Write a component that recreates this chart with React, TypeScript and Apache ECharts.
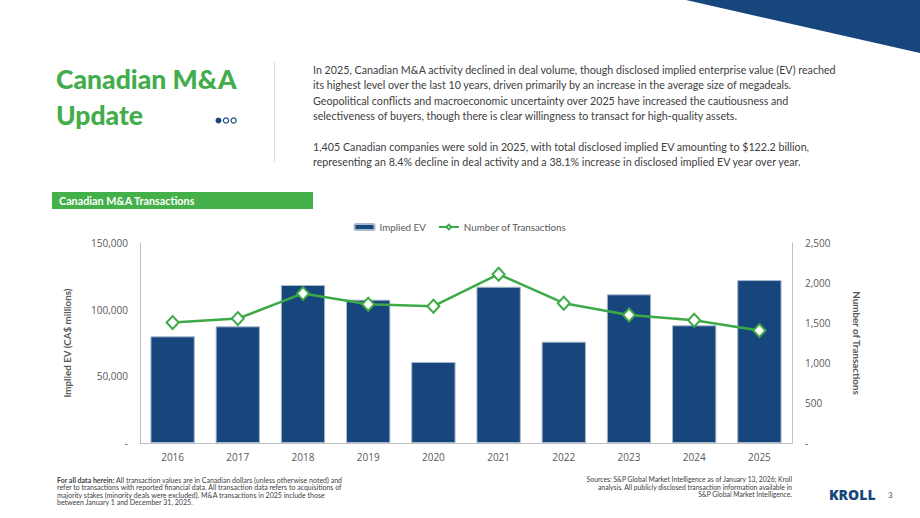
import React, { useEffect, useRef } from "react";
import * as echarts from "echarts";

// Transaction data by year
const years = ["2016", "2017", "2018", "2019", "2020", "2021", "2022", "2023", "2024", "2025"];
const impliedEV = [80000, 87500, 118500, 107500, 60800, 117200, 76000, 111500, 88300, 122200];
const transactions = [1505, 1555, 1870, 1735, 1710, 2110, 1748, 1600, 1534, 1405];

const leftTicks = { min: 0, max: 150000, interval: 50000 };
const rightTicks = { min: 0, max: 2500, interval: 500 };

const NAVY = "#17467C";
const GREEN = "#42AD4A";
const GREY = "#595959";
const FONT = "Lato, 'Open Sans', sans-serif";

const introLines = [
  "In 2025, Canadian M&A activity declined in deal volume, though disclosed implied enterprise value (EV) reached",
  "its highest level over the last 10 years, driven primarily by an increase in the average size of megadeals.",
  "Geopolitical conflicts and macroeconomic uncertainty over 2025 have increased the cautiousness and",
  "selectiveness of buyers, though there is clear willingness to transact for high-quality assets.",
  "",
  "1,405 Canadian companies were sold in 2025, with total disclosed implied EV amounting to $122.2 billion,",
  "representing an 8.4% decline in deal activity and a 38.1% increase in disclosed implied EV year over year.",
];

const footLeft = [
  "{b|For all data herein:} All transaction values are in Canadian dollars (unless otherwise noted) and",
  "refer to transactions with reported financial data. All transaction data refers to acquisitions of",
  "majority stakes (minority deals were excluded). M&A transactions in 2025 include those",
  "between January 1 and December 31, 2025.",
];

const footRight = [
  "Sources: S&P Global Market Intelligence as of January 13, 2026; Kroll",
  "analysis. All publicly disclosed transaction information available in",
  "S&P Global Market Intelligence.",
];

const fmt = (v: number) => (v === 0 ? "-" : v.toLocaleString("en-US"));

export default function App() {
  const ref = useRef<HTMLDivElement>(null);

  useEffect(() => {
    if (!ref.current) return;
    const chart = echarts.init(ref.current, undefined, { renderer: "svg" });

    chart.setOption({
      animation: false,
      backgroundColor: "#ffffff",
      textStyle: { fontFamily: FONT },
      legend: {
        top: 217,
        left: "center",
        itemWidth: 20,
        itemHeight: 6,
        itemGap: 12,
        textStyle: { color: GREY, fontSize: 9.8, fontFamily: FONT },
        data: ["Implied EV", "Number of Transactions"],
      },
      grid: { left: 140, right: 128, top: 243, bottom: 75 },
      xAxis: {
        type: "category",
        data: years,
        axisLine: { lineStyle: { color: "#BFBFBF" } },
        axisTick: { show: false },
        axisLabel: { color: GREY, fontSize: 10, margin: 9, fontFamily: "'Open Sans', sans-serif" },
      },
      yAxis: [
        {
          type: "value",
          ...leftTicks,
          name: "Implied EV (CA$ millions)",
          nameLocation: "middle",
          nameRotate: 90,
          nameGap: 68,
          nameTextStyle: { color: GREY, fontSize: 9.8, fontWeight: "bold", fontFamily: FONT },
          axisLine: { show: true, lineStyle: { color: "#BFBFBF" } },
          axisTick: { show: false },
          splitLine: { show: false },
          axisLabel: { color: GREY, fontSize: 10, margin: 12, formatter: fmt, fontFamily: "'Open Sans', sans-serif" },
        },
        {
          type: "value",
          ...rightTicks,
          name: "Number of Transactions",
          nameLocation: "middle",
          nameRotate: -90,
          nameGap: 60,
          nameTextStyle: { color: GREY, fontSize: 9.8, fontWeight: "bold", fontFamily: FONT },
          axisLine: { show: true, lineStyle: { color: "#BFBFBF" } },
          axisTick: { show: false },
          splitLine: { show: false },
          axisLabel: { color: GREY, fontSize: 10, margin: 13, formatter: fmt, fontFamily: "'Open Sans', sans-serif" },
        },
      ],
      series: [
        {
          name: "Implied EV",
          type: "bar",
          data: impliedEV,
          barCategoryGap: "32%",
          itemStyle: { color: NAVY, borderColor: "#A9BACD", borderWidth: 1 },
        },
        {
          name: "Number of Transactions",
          type: "line",
          yAxisIndex: 1,
          data: transactions,
          symbol: "diamond",
          symbolSize: [12, 13],
          lineStyle: { color: "#3DAA47", width: 2.5 },
          itemStyle: { color: "#ffffff", borderColor: "#3DAA47", borderWidth: 2 },
        },
      ],
      graphic: [
        // top-right corner wedge
        {
          type: "polygon",
          shape: { points: [[686, 0], [920, 0], [920, 53]] },
          style: { fill: NAVY },
        },
        {
          type: "text",
          x: 56,
          y: 61,
          style: {
            text: "Canadian M&A\nUpdate",
            fontSize: 26.5,
            fontWeight: 900,
            lineHeight: 36,
            fill: GREEN,
            fontFamily: FONT,
          },
        },
        { type: "circle", shape: { cx: 218.5, cy: 120.5, r: 3 }, style: { fill: NAVY } },
        { type: "circle", shape: { cx: 226, cy: 120.5, r: 2.6 }, style: { fill: "#fff", stroke: NAVY, lineWidth: 1.2 } },
        { type: "circle", shape: { cx: 233.6, cy: 120.5, r: 2.6 }, style: { fill: "#fff", stroke: NAVY, lineWidth: 1.2 } },
        {
          type: "line",
          shape: { x1: 274.5, y1: 62, x2: 274.5, y2: 162 },
          style: { stroke: "#D9D9D9", lineWidth: 1 },
        },
        {
          type: "text",
          x: 313,
          y: 62,
          style: {
            text: introLines.join("\n"),
            fontSize: 10.7,
            lineHeight: 15.3,
            fill: "#404040",
            fontFamily: FONT,
          },
        },
        {
          type: "rect",
          shape: { x: 52, y: 192, width: 261, height: 17 },
          style: { fill: "#43B04A" },
        },
        {
          type: "text",
          x: 59,
          y: 200.5,
          style: {
            text: "Canadian M&A Transactions",
            fontSize: 10.8,
            fontWeight: "bold",
            fill: "#ffffff",
            verticalAlign: "middle",
            fontFamily: FONT,
          },
        },
        {
          type: "text",
          x: 57,
          y: 476,
          style: {
            text: footLeft.join("\n"),
            fontSize: 7,
            lineHeight: 7.4,
            fill: "#404040",
            fontFamily: FONT,
            rich: { b: { fontWeight: "bold", fontSize: 7, fill: "#404040", fontFamily: FONT } },
          },
        },
        {
          type: "text",
          x: 792,
          y: 475.5,
          style: {
            text: footRight.join("\n"),
            fontSize: 6.8,
            lineHeight: 7.5,
            align: "right",
            fill: "#404040",
            fontFamily: FONT,
          },
        },
        {
          type: "text",
          x: 829,
          y: 494.5,
          style: {
            text: "KROLL",
            fontSize: 14,
            fontWeight: 900,
            fill: NAVY,
            verticalAlign: "middle",
            fontFamily: "'Open Sans', sans-serif",
          },
        },
        {
          type: "text",
          x: 888,
          y: 494.5,
          style: {
            text: "3",
            fontSize: 8,
            fill: GREY,
            verticalAlign: "middle",
            fontFamily: FONT,
          },
        },
      ],
    });

    return () => chart.dispose();
  }, []);

  return (
    <div
      ref={ref}
      style={{ position: "fixed", left: 0, top: 0, width: 920, height: 518 }}
    />
  );
}
